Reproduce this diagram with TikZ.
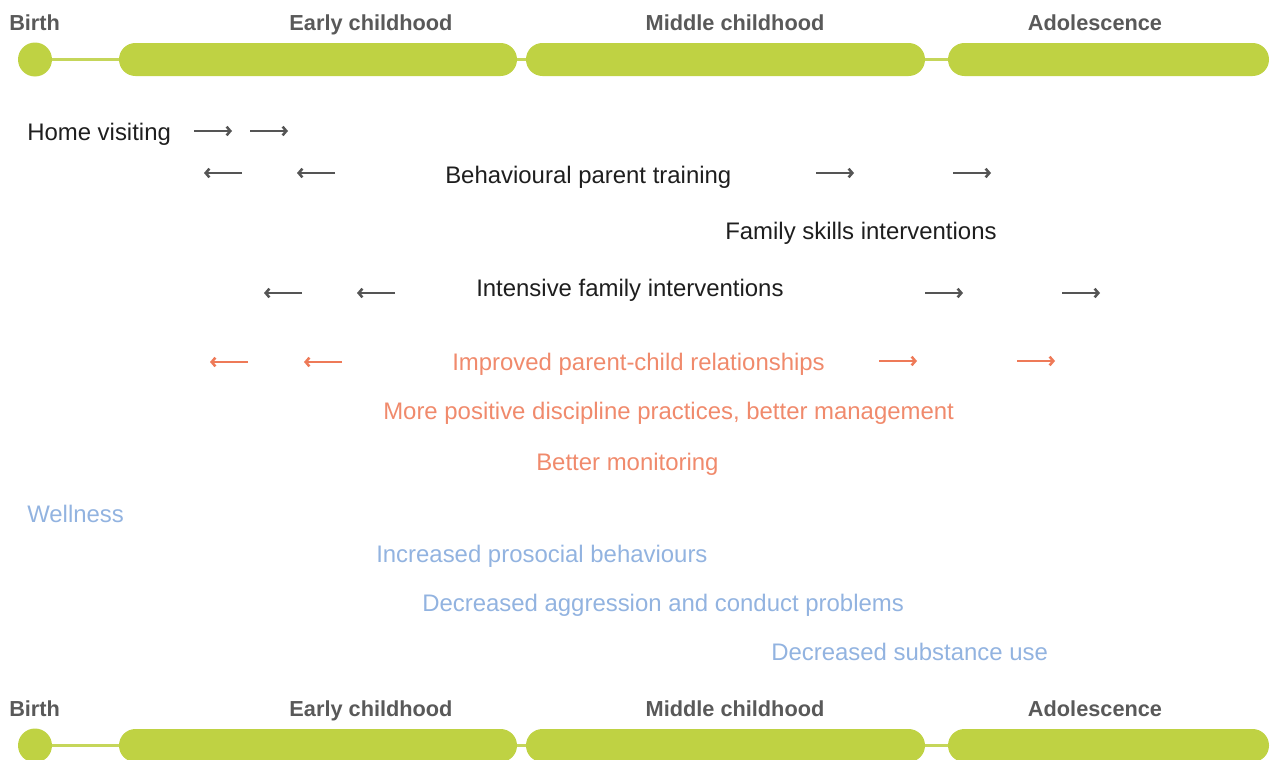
\documentclass[tikz,border=0pt]{standalone}
\usepackage{fontspec}
\setmainfont{Liberation Sans}
\usetikzlibrary{arrows.meta}
\definecolor{lime}{HTML}{BFD243}
\definecolor{limeline}{HTML}{C5D65A}
\definecolor{labgray}{HTML}{595959}
\definecolor{bodyblack}{HTML}{1E1E1E}
\definecolor{arrgray}{HTML}{555555}
\definecolor{orng}{HTML}{F08A6C}
\definecolor{orngarr}{HTML}{EE7A58}
\definecolor{blu}{HTML}{92B3E0}
\tikzset{
  stagebar/.style={rectangle, fill=lime, rounded corners=12.3pt, minimum height=24.75pt, inner sep=0pt},
  birthdot/.style={circle, fill=lime, minimum size=25.5pt, inner sep=0pt},
  link/.style={draw=limeline, line width=2.25pt},
  stagelab/.style={text=labgray, font=\fontsize{16.3}{18}\selectfont\bfseries, inner sep=0pt},
  bodytxt/.style={anchor=base west, inner sep=0pt, font=\fontsize{17.95}{20}\selectfont},
  prog/.style={bodytxt, text=bodyblack},
  outc/.style={bodytxt, text=orng},
  wellb/.style={bodytxt, text=blu},
  garrow/.style={draw=arrgray, line width=1.9pt, -{Straight Barb[length=2.8pt,width=6.5pt,line width=1.9pt]}},
  oarrow/.style={draw=orngarr, line width=1.9pt, -{Straight Barb[length=2.8pt,width=6.5pt,line width=1.9pt]}},
}
\begin{document}
\begin{tikzpicture}[x=0.75pt,y=-0.75pt]
\useasboundingbox (0,0) rectangle (1271,760);
% ---------- top timeline ----------
\node[birthdot] (tb) at (35,59.5) {};
\node[stagebar, minimum width=298.5pt] (te) at (318,59.5) {};
\node[stagebar, minimum width=299.25pt] (tm) at (725.5,59.5) {};
\node[stagebar, minimum width=240.75pt] (ta) at (1108.5,59.5) {};
\draw[link] (tb.east) -- (te.west);
\draw[link] (te.east) -- (tm.west);
\draw[link] (tm.east) -- (ta.west);
\node[stagelab, anchor=base west] (tlb) at (9,30) {Birth};
\node[stagelab, anchor=base] (tle) at (371,30) {Early childhood};
\node[stagelab, anchor=base] (tlm) at (735,30) {Middle childhood};
\node[stagelab, anchor=base] (tla) at (1095,30) {Adolescence};
% ---------- programmes ----------
\node[prog] (hv) at (27,140) {Home visiting};
\draw[garrow] (194,131) -- (232,131);
\draw[garrow] (250,131) -- (288,131);
\draw[garrow] (242,173) -- (204,173);
\draw[garrow] (335,173) -- (297,173);
\node[prog] (bpt) at (445,183) {Behavioural parent training};
\draw[garrow] (816,173) -- (854,173);
\draw[garrow] (953,173) -- (991,173);
\node[prog] (fsi) at (725,239.5) {Family skills interventions};
\draw[garrow] (302,293) -- (264,293);
\draw[garrow] (395,293) -- (357,293);
\node[prog] (ifi) at (476,296.5) {Intensive family interventions};
\draw[garrow] (925,293) -- (963,293);
\draw[garrow] (1062,293) -- (1100,293);
% ---------- parenting outcomes ----------
\draw[oarrow] (248,362) -- (210,362);
\draw[oarrow] (342,362) -- (304,362);
\node[outc] (ipc) at (452,370.5) {Improved parent-child relationships};
\draw[oarrow] (879,361) -- (917,361);
\draw[oarrow] (1017,361) -- (1055,361);
\node[outc] (mpd) at (383,419.5) {More positive discipline practices, better management};
\node[outc] (bm) at (536,470.5) {Better monitoring};
% ---------- child outcomes ----------
\node[wellb] (wel) at (27,522.5) {Wellness};
\node[wellb] (ipb) at (376,562.5) {Increased prosocial behaviours};
\node[wellb] (dac) at (422,611.5) {Decreased aggression and conduct problems};
\node[wellb] (dsu) at (771,660.5) {Decreased substance use};
% ---------- bottom timeline ----------
\node[birthdot] (bb) at (35,745.5) {};
\node[stagebar, minimum width=298.5pt] (be) at (318,745.5) {};
\node[stagebar, minimum width=299.25pt] (bmid) at (725.5,745.5) {};
\node[stagebar, minimum width=240.75pt] (ba) at (1108.5,745.5) {};
\draw[link] (bb.east) -- (be.west);
\draw[link] (be.east) -- (bmid.west);
\draw[link] (bmid.east) -- (ba.west);
\node[stagelab, anchor=base west] (blb) at (9,716) {Birth};
\node[stagelab, anchor=base] (ble) at (371,716) {Early childhood};
\node[stagelab, anchor=base] (blm) at (735,716) {Middle childhood};
\node[stagelab, anchor=base] (bla) at (1095,716) {Adolescence};
\end{tikzpicture}
\end{document}
